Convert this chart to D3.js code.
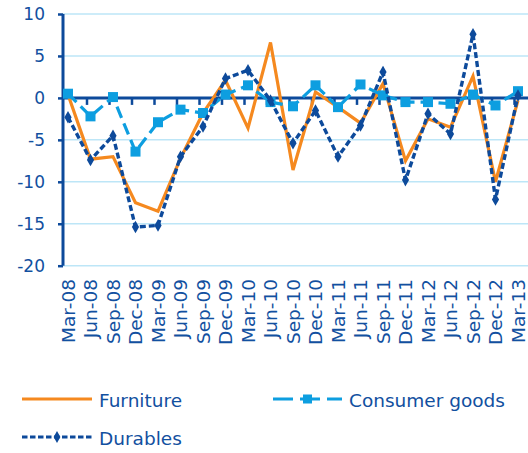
<!DOCTYPE html>
<html>
<head>
<meta charset="utf-8">
<script src="https://cdn.jsdelivr.net/npm/d3@7"></script>
<style>
  body { margin: 0; background: #fff; }
  text { font-family: "DejaVu Sans", sans-serif; fill: #1250a0; }
</style>
</head>
<body>
<svg id="chart" width="528" height="453"></svg>
<script>
const quarters = ["Mar-08", "Jun-08", "Sep-08", "Dec-08", "Mar-09", "Jun-09", "Sep-09",
  "Dec-09", "Mar-10", "Jun-10", "Sep-10", "Dec-10", "Mar-11", "Jun-11", "Sep-11",
  "Dec-11", "Mar-12", "Jun-12", "Sep-12", "Dec-12", "Mar-13"];
const furniture = [0.4, -7.3, -7.0, -12.5, -13.5, -7.2, -1.8, 2.1, -3.6, 6.6, -8.6,
  0.7, -1.1, -3.0, 1.7, -7.5, -2.5, -3.5, 2.6, -10.0, -0.3];
const consumerGoods = [0.5, -2.2, 0.1, -6.4, -2.9, -1.4, -1.8, 0.4, 1.5, -0.5, -1.0,
  1.5, -1.1, 1.6, 0.3, -0.5, -0.5, -0.7, 0.4, -0.9, 0.8];
const durables = [-2.3, -7.4, -4.5, -15.4, -15.2, -7.0, -3.4, 2.3, 3.3, -0.3, -5.4,
  -1.5, -7.0, -3.3, 3.1, -9.8, -1.9, -4.3, 7.6, -12.1, 0.3];
const yTicks = [10, 5, 0, -5, -10, -15, -20];

const orange = "#f5891f", light = "#0d9ee0", dark = "#0d4a9b", grid = "#bde6f7";

const svg = d3.select("#chart");

const x = d3.scalePoint().domain(quarters).range([68, 518]);
const y = d3.scaleLinear().domain([-20, 10]).range([265.7, 14]);

// gridlines
svg.append("g")
  .selectAll("line")
  .data(yTicks.filter(d => d !== 0))
  .join("line")
  .attr("x1", 63).attr("x2", 528)
  .attr("y1", d => y(d)).attr("y2", d => y(d))
  .attr("stroke", grid).attr("stroke-width", 1.5);

// y axis
const yAxis = svg.append("g")
  .attr("transform", "translate(63,0)")
  .call(d3.axisLeft(y).tickValues(yTicks).tickSize(5).tickPadding(13)
    .tickFormat(d => String(d)));
yAxis.select(".domain").attr("stroke", dark).attr("stroke-width", 3)
  .attr("d", `M0,${y(10)}V${y(-20)}`);
yAxis.selectAll(".tick line").attr("stroke", dark).attr("stroke-width", 2.5);
yAxis.selectAll(".tick text").attr("font-size", 17).attr("fill", "#1250a0")
  .attr("font-family", "DejaVu Sans");

// x axis on zero line
const xAxis = svg.append("g")
  .attr("transform", `translate(0,${y(0)})`)
  .call(d3.axisBottom(x).tickSize(0).tickFormat(""));
xAxis.select(".domain").attr("stroke", dark).attr("stroke-width", 3)
  .attr("d", "M63,0H528");
xAxis.selectAll(".tick line").remove();
svg.append("g")
  .selectAll("line")
  .data(quarters.slice(1))
  .join("line")
  .attr("x1", d => x(d) - 3.5).attr("x2", d => x(d) - 3.5)
  .attr("y1", y(0)).attr("y2", y(0) + 7)
  .attr("stroke", dark).attr("stroke-width", 2.5);

// x labels
svg.append("g")
  .selectAll("text")
  .data(quarters)
  .join("text")
  .attr("transform", d => `translate(${x(d)},279) rotate(-90)`)
  .attr("text-anchor", "end")
  .attr("dy", "0.36em")
  .attr("font-size", 18.5)
  .text(d => d);

const line = d3.line().x((d, i) => x(quarters[i])).y(d => y(d));

// series
svg.append("path").datum(furniture)
  .attr("d", line).attr("fill", "none")
  .attr("stroke", orange).attr("stroke-width", 3.2).attr("stroke-linejoin", "miter");

svg.append("path").datum(consumerGoods)
  .attr("d", line).attr("fill", "none")
  .attr("stroke", light).attr("stroke-width", 3.2).attr("stroke-dasharray", "12,6");
svg.append("g").selectAll("rect")
  .data(consumerGoods)
  .join("rect")
  .attr("x", (d, i) => x(quarters[i]) - 5)
  .attr("y", d => y(d) - 5)
  .attr("width", 10).attr("height", 10)
  .attr("fill", light);

svg.append("path").datum(durables)
  .attr("d", line).attr("fill", "none")
  .attr("stroke", dark).attr("stroke-width", 3.4).attr("stroke-dasharray", "6,3");
svg.append("g").selectAll("path")
  .data(durables)
  .join("path")
  .attr("d", d3.symbol(d3.symbolDiamond, 45))
  .attr("transform", (d, i) => `translate(${x(quarters[i])},${y(d)})`)
  .attr("fill", dark);

// legend
const legend = svg.append("g");
legend.append("line").attr("x1", 22).attr("x2", 92).attr("y1", 399).attr("y2", 399)
  .attr("stroke", orange).attr("stroke-width", 3);
legend.append("text").attr("x", 99).attr("y", 407).attr("font-size", 18.5).text("Furniture");

legend.append("line").attr("x1", 273).attr("x2", 342).attr("y1", 399).attr("y2", 399)
  .attr("stroke", light).attr("stroke-width", 3).attr("stroke-dasharray", "20,7");
legend.append("rect").attr("x", 303).attr("y", 394.5).attr("width", 9).attr("height", 9)
  .attr("fill", light);
legend.append("text").attr("x", 349).attr("y", 407).attr("font-size", 18.5).text("Consumer goods");

legend.append("line").attr("x1", 22).attr("x2", 92).attr("y1", 437).attr("y2", 437)
  .attr("stroke", dark).attr("stroke-width", 3).attr("stroke-dasharray", "5.5,2.5");
legend.append("path").attr("d", d3.symbol(d3.symbolDiamond, 40))
  .attr("transform", "translate(57,437)").attr("fill", dark);
legend.append("text").attr("x", 99).attr("y", 445).attr("font-size", 18.5).text("Durables");
</script>
</body>
</html>
